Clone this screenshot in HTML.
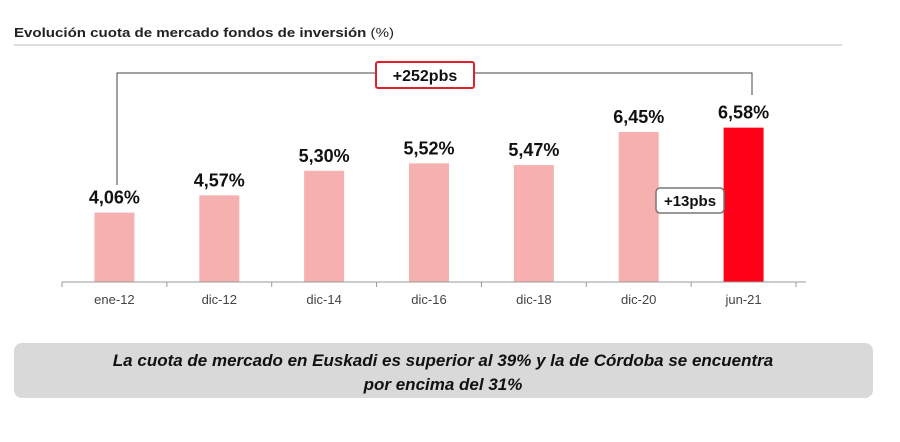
<!DOCTYPE html>
<html><head><meta charset="utf-8"><style>
body{margin:0;background:#fff;width:900px;height:437px;overflow:hidden;font-family:"Liberation Sans",sans-serif}
</style></head><body>
<svg width="900" height="437">
<text x="14" y="37" font-size="13" font-weight="bold" fill="#222" textLength="380" lengthAdjust="spacingAndGlyphs">Evolución cuota de mercado fondos de inversión <tspan font-weight="normal">(%)</tspan></text>
<line x1="14" y1="45" x2="842" y2="45" stroke="#ddd" stroke-width="2"/>
<g id="bars"></g>
<polyline points="117,185 117,73 752,73 752,95" fill="none" stroke="#444" stroke-width="1"/>
<rect x="376" y="62" width="98" height="26" rx="2" fill="#fff" stroke="#e0202a" stroke-width="2"/>
<text x="425" y="81" font-size="16" font-weight="bold" text-anchor="middle" fill="#111">+252pbs</text>
<rect x="656" y="188" width="68" height="25" rx="4" fill="#fff" stroke="#777" stroke-width="1.5"/>
<text x="690" y="206" font-size="15" font-weight="bold" text-anchor="middle" fill="#111">+13pbs</text>
<rect x="14" y="343" width="859" height="55" rx="8" fill="#d9d9d9"/>
<text x="443" y="366" font-size="17" font-weight="bold" font-style="italic" text-anchor="middle" fill="#111">La cuota de mercado en Euskadi es superior al 39% y la de Córdoba se encuentra</text>
<text x="443" y="390" font-size="17" font-weight="bold" font-style="italic" text-anchor="middle" fill="#111">por encima del 31%</text>
</svg>
<script>
const categories=["ene-12","dic-12","dic-14","dic-16","dic-18","dic-20","jun-21"];
const values=[4.06,4.57,5.30,5.52,5.47,6.45,6.58];
const valueLabels=["4,06%","4,57%","5,30%","5,52%","5,47%","6,45%","6,58%"];
const yMin=2.0, baseY=282, pxPerUnit=33.7;
const x0=62, x1=796, step=(x1-x0)/categories.length, barW=40;
const y=v=>baseY-(v-yMin)*pxPerUnit;
const g=document.getElementById('bars');
const ns='http://www.w3.org/2000/svg';
function mk(t,a){const e=document.createElementNS(ns,t);for(const k in a)e.setAttribute(k,a[k]);g.appendChild(e);return e;}
categories.forEach((c,i)=>{
 const cx=x0+step*(i+0.5);
 const r=mk('rect',{x:cx-barW/2,y:y(values[i]),width:barW,height:baseY-y(values[i]),fill:i===categories.length-1?'#ff0018':'#f7b0b0'});
 
 
 const t=mk('text',{x:cx,y:y(values[i])-9,'font-size':18,'font-weight':'bold','text-anchor':'middle',fill:'#111'});
 t.textContent=valueLabels[i];
 
 
 const l=mk('text',{x:cx,y:baseY+22,'font-size':13,'text-anchor':'middle',fill:'#444'});
 l.textContent=c;
 
 
});
const ax=mk('line',{x1:x0,y1:baseY,x2:x1+10,y2:baseY,stroke:'#999','stroke-width':1});


for(let i=0;i<=categories.length;i++){
 const tk=mk('line',{x1:x0+step*i,y1:baseY,x2:x0+step*i,y2:baseY+5,stroke:'#999'});
 
 
}
</script>
</body></html>
